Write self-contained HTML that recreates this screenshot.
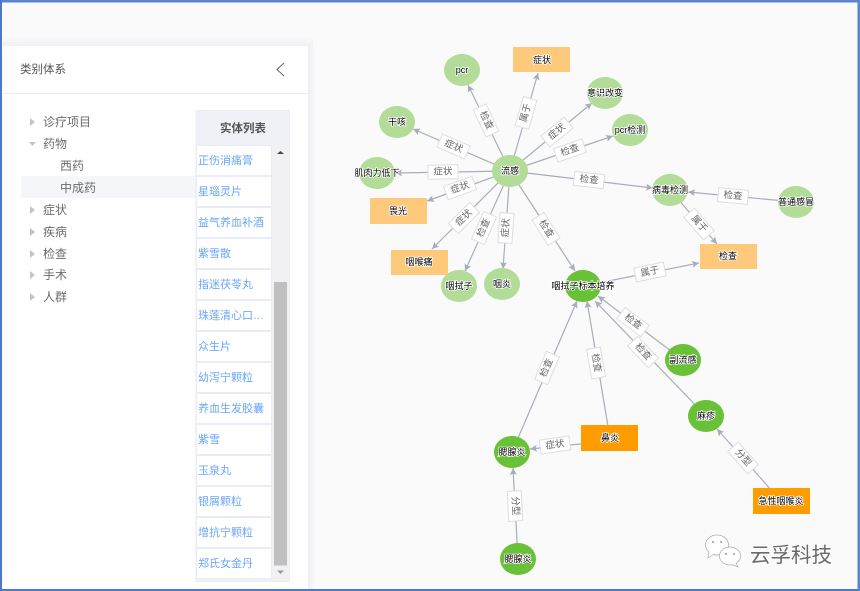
<!DOCTYPE html>
<html lang="zh"><head><meta charset="utf-8"><title>知识图谱</title>
<style>
html,body{margin:0;padding:0;background:#fafafa}
svg{display:block}
text{font-family:"Liberation Sans","Noto Sans CJK SC",sans-serif}
.e{stroke:#a7adba;stroke-width:1.2;fill:none;marker-end:url(#a)}
.l rect{fill:#fff;stroke:#dedede;stroke-width:1}
.l text{font-size:9.5px;fill:#666;text-anchor:middle;dominant-baseline:central}
.n text,text.n{font-size:9px;fill:#000;text-anchor:middle;dominant-baseline:central;stroke:#fff;stroke-width:1.6px;paint-order:stroke}
.t{font-size:12px;fill:#6b6b6b}
.r{font-size:11px;fill:#69a6fa}
</style></head><body>
<svg width="860" height="591" viewBox="0 0 860 591" xmlns="http://www.w3.org/2000/svg">
<defs>
<marker id="a" markerUnits="userSpaceOnUse" markerWidth="9" markerHeight="8" refX="7" refY="3.5" orient="auto"><path d="M0 0L7 3.5L0 7L1.5 3.5Z" fill="#a7adba"/></marker>
<linearGradient id="sv" x1="0" y1="0" x2="0" y2="1"><stop offset="0" stop-color="#fafafa"/><stop offset="1" stop-color="#eeeff3"/></linearGradient>
<linearGradient id="sh" x1="0" y1="0" x2="1" y2="0"><stop offset="0" stop-color="#eceef3"/><stop offset="1" stop-color="#fafafa"/></linearGradient>
</defs>
<rect width="860" height="591" fill="#fafafa"/>

<!-- side panel -->
<rect x="3" y="38" width="310" height="8" fill="url(#sv)"/>
<rect x="308" y="46" width="7" height="545" fill="url(#sh)"/>
<rect x="3" y="46" width="305" height="550" rx="4" fill="#fff"/>
<text x="20" y="73" font-size="11.5" fill="#555">类别体系</text>
<path d="M284 63L277 69.500L284 76" fill="none" stroke="#666" stroke-width="1"/>
<rect x="3" y="93" width="305" height="1" fill="#e9ecf5"/>
<rect x="21" y="176" width="175" height="22" fill="#f5f6fa"/>
<g fill="#c2c4c8">
<path d="M30 118L35 122L30 126Z"/><path d="M29 142L36 142L32.500 146Z"/><path d="M30 206L35 210L30 214Z"/><path d="M30 228L35 232L30 236Z"/><path d="M30 250L35 254L30 258Z"/><path d="M30 271L35 275L30 279Z"/><path d="M30 293L35 297L30 301Z"/>
</g>
<g class="t">
<text x="43" y="126">诊疗项目</text><text x="43" y="148">药物</text><text x="60" y="170">西药</text><text x="60" y="192">中成药</text><text x="43" y="214">症状</text><text x="43" y="236">疾病</text><text x="43" y="258">检查</text><text x="43" y="279">手术</text><text x="43" y="301">人群</text>
</g>
<rect x="196" y="110.500" width="93.500" height="471" fill="#f1f1f3" stroke="#eaedf3"/>
<rect x="196" y="111" width="93" height="34" fill="#eff1f6"/>
<text x="243" y="132" font-size="11.500" font-weight="bold" fill="#555" text-anchor="middle">实体列表</text>
<g fill="#fff" stroke="#e9ecf6">
<rect x="196.500" y="145.500" width="75" height="30"/><rect x="196.500" y="176.500" width="75" height="30"/><rect x="196.500" y="207.500" width="75" height="30"/><rect x="196.500" y="238.500" width="75" height="30"/><rect x="196.500" y="269.500" width="75" height="30"/><rect x="196.500" y="300.500" width="75" height="30"/><rect x="196.500" y="331.500" width="75" height="30"/><rect x="196.500" y="362.500" width="75" height="30"/><rect x="196.500" y="393.500" width="75" height="30"/><rect x="196.500" y="424.500" width="75" height="30"/><rect x="196.500" y="455.500" width="75" height="30"/><rect x="196.500" y="486.500" width="75" height="30"/><rect x="196.500" y="517.500" width="75" height="30"/><rect x="196.500" y="548.500" width="75" height="30"/>
</g>
<g class="r">
<text x="198" y="164">正伤消痛膏</text><text x="198" y="195">星瑙灵片</text><text x="198" y="226">益气养血补酒</text><text x="198" y="257">紫雪散</text><text x="198" y="288">指迷茯苓丸</text><text x="198" y="319">珠莲清心口…</text><text x="198" y="350">众生片</text><text x="198" y="381">幼泻宁颗粒</text><text x="198" y="412">养血生发胶囊</text><text x="198" y="443">紫雪</text><text x="198" y="474">玉泉丸</text><text x="198" y="505">银屑颗粒</text><text x="198" y="536">增抗宁颗粒</text><text x="198" y="567">郑氏女金丹</text>
</g>
<rect x="274" y="282" width="13" height="283.500" fill="#c0c0c0"/>
<path d="M277 154L284 154L280.500 151Z" fill="#444"/>
<path d="M277 570.500L284 570.500L280.500 574Z" fill="#999"/>

<!-- edges -->
<line class="e" x1="510" y1="171" x2="468" y2="85"/>
<line class="e" x1="510" y1="171" x2="538" y2="73"/>
<line class="e" x1="510" y1="171" x2="592" y2="103"/>
<line class="e" x1="510" y1="171" x2="613" y2="136"/>
<line class="e" x1="510" y1="171" x2="413" y2="129"/>
<line class="e" x1="510" y1="171" x2="395" y2="173"/>
<line class="e" x1="510" y1="171" x2="427" y2="201"/>
<line class="e" x1="510" y1="171" x2="432" y2="249"/>
<line class="e" x1="510" y1="171" x2="465" y2="271"/>
<line class="e" x1="510" y1="171" x2="503" y2="269"/>
<line class="e" x1="510" y1="171" x2="575" y2="271"/>
<line class="e" x1="510" y1="171" x2="653" y2="188"/>
<line class="e" x1="796" y1="202" x2="688" y2="192"/>
<line class="e" x1="670" y1="190" x2="717" y2="244"/>
<line class="e" x1="583" y1="286" x2="699" y2="263"/>
<line class="e" x1="512" y1="452" x2="577" y2="301"/>
<line class="e" x1="610" y1="438" x2="587" y2="301"/>
<line class="e" x1="683" y1="360" x2="598" y2="296"/>
<line class="e" x1="706" y1="416" x2="595" y2="301"/>
<line class="e" x1="610" y1="441" x2="530" y2="449"/>
<line class="e" x1="781" y1="501" x2="717" y2="429"/>
<line class="e" x1="518" y1="559" x2="513" y2="468"/>

<!-- nodes -->
<g fill="#b2dc98">
<ellipse cx="510" cy="171" rx="18" ry="16"/><ellipse cx="462" cy="70" rx="18" ry="16"/><ellipse cx="605" cy="93" rx="18" ry="16"/><ellipse cx="630" cy="130" rx="18" ry="16"/><ellipse cx="397" cy="122" rx="18" ry="16"/><ellipse cx="377" cy="173" rx="18" ry="16"/><ellipse cx="459" cy="286" rx="18" ry="16"/><ellipse cx="502" cy="284" rx="18" ry="16"/><ellipse cx="670" cy="190" rx="18" ry="16"/><ellipse cx="796" cy="202" rx="18" ry="16"/>
</g>
<g fill="#68c136">
<ellipse cx="583" cy="286" rx="18" ry="16"/><ellipse cx="683" cy="360" rx="18" ry="16"/><ellipse cx="706" cy="416" rx="18" ry="16"/><ellipse cx="512" cy="452" rx="18" ry="16"/><ellipse cx="518" cy="559" rx="18" ry="16"/>
</g>
<g fill="#ffc97c">
<rect x="513" y="47" width="57" height="25"/><rect x="370" y="198" width="57" height="26"/><rect x="391" y="250" width="57" height="25"/><rect x="700" y="244" width="57" height="25"/>
</g>
<g fill="#ff9c00">
<rect x="581" y="425" width="57" height="26"/><rect x="753" y="488" width="57" height="26"/>
</g>

<!-- edge labels -->
<g class="l" transform="translate(486 120.500) rotate(64.600)"><rect x="-15" y="-7" width="30" height="14"/><text>检查</text></g>
<g class="l" transform="translate(526 113) rotate(-74)"><rect x="-15" y="-7" width="30" height="14"/><text>属于</text></g>
<g class="l" transform="translate(557 132) rotate(-39.400)"><rect x="-15" y="-7" width="30" height="14"/><text>症状</text></g>
<g class="l" transform="translate(570 150.500) rotate(-18.900)"><rect x="-15" y="-7" width="30" height="14"/><text>检查</text></g>
<g class="l" transform="translate(453.500 146.500) rotate(23.400)"><rect x="-15" y="-7" width="30" height="14"/><text>症状</text></g>
<g class="l" transform="translate(443 172) rotate(-1)"><rect x="-15" y="-7" width="30" height="14"/><text>症状</text></g>
<g class="l" transform="translate(460 188) rotate(-19.600)"><rect x="-15" y="-7" width="30" height="14"/><text>症状</text></g>
<g class="l" transform="translate(464 218) rotate(-45)"><rect x="-15" y="-7" width="30" height="14"/><text>症状</text></g>
<g class="l" transform="translate(484 228) rotate(-66)"><rect x="-15" y="-7" width="30" height="14"/><text>检查</text></g>
<g class="l" transform="translate(506 228) rotate(-86)"><rect x="-15" y="-7" width="30" height="14"/><text>症状</text></g>
<g class="l" transform="translate(546 229) rotate(57.600)"><rect x="-15" y="-7" width="30" height="14"/><text>检查</text></g>
<g class="l" transform="translate(589 180) rotate(6.800)"><rect x="-15" y="-7" width="30" height="14"/><text>检查</text></g>
<g class="l" transform="translate(733 196) rotate(5.400)"><rect x="-15" y="-7" width="30" height="14"/><text>检查</text></g>
<g class="l" transform="translate(699 224) rotate(48.700)"><rect x="-15" y="-7" width="30" height="14"/><text>属于</text></g>
<g class="l" transform="translate(650 272) rotate(-11.700)"><rect x="-15" y="-7" width="30" height="14"/><text>属于</text></g>
<g class="l" transform="translate(547 368) rotate(-66.800)"><rect x="-15" y="-7" width="30" height="14"/><text>检查</text></g>
<g class="l" transform="translate(596 363) rotate(80)"><rect x="-15" y="-7" width="30" height="14"/><text>检查</text></g>
<g class="l" transform="translate(633 322) rotate(36.500)"><rect x="-15" y="-7" width="30" height="14"/><text>检查</text></g>
<g class="l" transform="translate(643 352) rotate(46.600)"><rect x="-15" y="-7" width="30" height="14"/><text>检查</text></g>
<g class="l" transform="translate(555 445) rotate(-8)"><rect x="-15" y="-7" width="30" height="14"/><text>症状</text></g>
<g class="l" transform="translate(743 458) rotate(48.600)"><rect x="-15" y="-7" width="30" height="14"/><text>分型</text></g>
<g class="l" transform="translate(515 506) rotate(86.800)"><rect x="-15" y="-7" width="30" height="14"/><text>分型</text></g>

<!-- node labels -->
<g class="n">
<text x="510" y="171">流感</text><text x="462" y="70">pcr</text><text x="542" y="60">症状</text><text x="605" y="93">意识改变</text><text x="630" y="130">pcr检测</text><text x="397" y="122">干咳</text><text x="377" y="173">肌肉力低下</text><text x="398" y="211">畏光</text><text x="419" y="262">咽喉痛</text><text x="459" y="286">咽拭子</text><text x="502" y="284">咽炎</text><text x="670" y="190">病毒检测</text><text x="796" y="202">普通感冒</text><text x="728" y="256">检查</text><text x="583" y="286">咽拭子标本培养</text><text x="683" y="360">副流感</text><text x="706" y="416">麻疹</text><text x="610" y="438">鼻炎</text><text x="512" y="452">腮腺炎</text><text x="518" y="559">腮腺炎</text><text x="781" y="501">急性咽喉炎</text>
</g>

<!-- watermark -->
<g fill="#fff" stroke="#aaa" stroke-width="0.700">
<ellipse cx="717" cy="545" rx="11.500" ry="10"/><path d="M709 552L708 558L714 554" />
<ellipse cx="730" cy="556" rx="10.500" ry="9"/><path d="M736 563L738 567L732 564.500"/>
</g>
<g fill="#999"><circle cx="713" cy="542" r="1"/><circle cx="721" cy="542" r="1"/><circle cx="726" cy="554" r="1"/><circle cx="734" cy="554" r="1"/></g>
<text x="750" y="562" font-size="20.500" fill="#6a6a6a" stroke="#fff" stroke-width="1.500" paint-order="stroke">云孚科技</text>

<!-- frame -->
<rect x="0" y="0" width="860" height="2.500" fill="#5b83cf"/>
<rect x="0" y="0" width="2" height="591" fill="#4f79c8"/>
<rect x="0" y="589" width="860" height="2" fill="#4f79c8"/>
<rect x="857.500" y="0" width="2.500" height="591" fill="#5b83cf"/>
</svg>
</body></html>
